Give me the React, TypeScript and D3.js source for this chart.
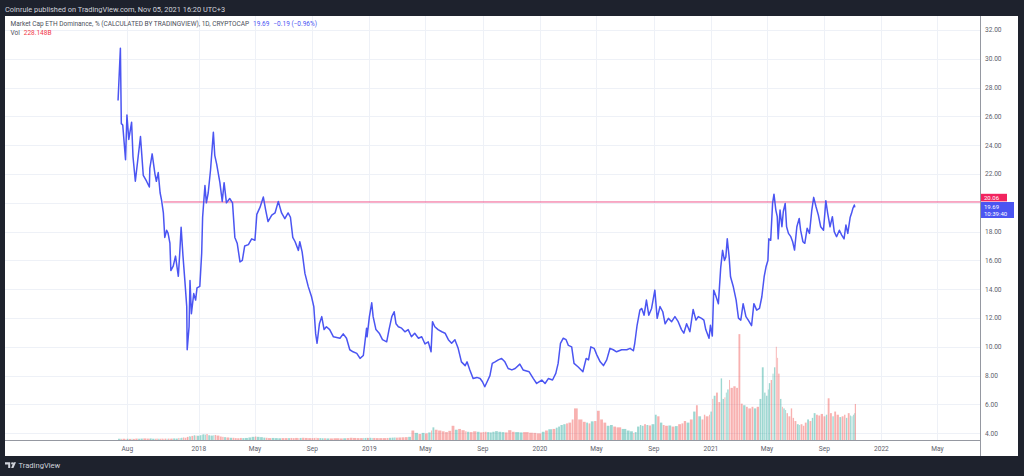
import * as d3 from "d3";
import { useEffect, useRef } from "react";

// daily samples (Market Cap ETH Dominance, %)
const lineDates = [
  "2017-07-12", "2017-07-17", "2017-07-19", "2017-07-22", "2017-07-28", "2017-07-31", "2017-08-04", "2017-08-10",
  "2017-08-13", "2017-08-18", "2017-08-24", "2017-08-29", "2017-09-04", "2017-09-11", "2017-09-17", "2017-09-18",
  "2017-09-23", "2017-09-29", "2017-10-02", "2017-10-06", "2017-10-10", "2017-10-13", "2017-10-17", "2017-10-20",
  "2017-10-24", "2017-10-27", "2017-10-31", "2017-11-02", "2017-11-07", "2017-11-12", "2017-11-18", "2017-11-21",
  "2017-11-24", "2017-11-28", "2017-12-02", "2017-12-06", "2017-12-07", "2017-12-11", "2017-12-13", "2017-12-16",
  "2017-12-21", "2017-12-25", "2017-12-28", "2018-01-03", "2018-01-07", "2018-01-09", "2018-01-14", "2018-01-17",
  "2018-01-21", "2018-01-26", "2018-02-01", "2018-02-04", "2018-02-08", "2018-02-15", "2018-02-20", "2018-02-24",
  "2018-03-01", "2018-03-08", "2018-03-14", "2018-03-19", "2018-03-24", "2018-03-30", "2018-04-04", "2018-04-09",
  "2018-04-17", "2018-04-24", "2018-05-01", "2018-05-05", "2018-05-12", "2018-05-19", "2018-05-24", "2018-05-29",
  "2018-06-06", "2018-06-13", "2018-06-20", "2018-06-27", "2018-07-04", "2018-07-11", "2018-07-16", "2018-07-21",
  "2018-07-26", "2018-08-02", "2018-08-05", "2018-08-10", "2018-08-16", "2018-08-23", "2018-08-30", "2018-09-04",
  "2018-09-08", "2018-09-11", "2018-09-16", "2018-09-21", "2018-09-26", "2018-10-01", "2018-10-08", "2018-10-16",
  "2018-10-30", "2018-11-06", "2018-11-13", "2018-11-20", "2018-11-27", "2018-12-05", "2018-12-12", "2018-12-19",
  "2018-12-22", "2018-12-26", "2018-12-27", "2019-01-01", "2019-01-06", "2019-01-09", "2019-01-15", "2019-01-22",
  "2019-01-29", "2019-02-07", "2019-02-12", "2019-02-18", "2019-02-23", "2019-02-27", "2019-03-04", "2019-03-11",
  "2019-03-18", "2019-03-25", "2019-04-01", "2019-04-08", "2019-04-16", "2019-04-23", "2019-04-30", "2019-05-07",
  "2019-05-13", "2019-05-16", "2019-05-21", "2019-05-28", "2019-06-05", "2019-06-12", "2019-06-19", "2019-06-26",
  "2019-07-03", "2019-07-10", "2019-07-17", "2019-07-25", "2019-07-29", "2019-08-04", "2019-08-11", "2019-08-19",
  "2019-08-26", "2019-08-31", "2019-09-05", "2019-09-10", "2019-09-16", "2019-09-21", "2019-09-27", "2019-10-04",
  "2019-10-11", "2019-10-18", "2019-10-25", "2019-11-02", "2019-11-09", "2019-11-19", "2019-11-26", "2019-12-09",
  "2019-12-18", "2019-12-25", "2020-01-05", "2020-01-12", "2020-01-19", "2020-01-28", "2020-02-04", "2020-02-09",
  "2020-02-14", "2020-02-20", "2020-02-26", "2020-03-02", "2020-03-09", "2020-03-14", "2020-03-23", "2020-04-02",
  "2020-04-09", "2020-04-14", "2020-04-19", "2020-04-26", "2020-05-02", "2020-05-09", "2020-05-16", "2020-05-23",
  "2020-05-30", "2020-06-06", "2020-06-13", "2020-06-24", "2020-07-05", "2020-07-12", "2020-07-19", "2020-07-22",
  "2020-07-27", "2020-08-02", "2020-08-06", "2020-08-11", "2020-08-16", "2020-08-21", "2020-08-27", "2020-09-03",
  "2020-09-08", "2020-09-14", "2020-09-20", "2020-09-25", "2020-10-02", "2020-10-09", "2020-10-16", "2020-10-23",
  "2020-10-30", "2020-11-04", "2020-11-10", "2020-11-17", "2020-11-24", "2020-11-30", "2020-12-05", "2020-12-12",
  "2020-12-17", "2020-12-21", "2020-12-28", "2020-12-31", "2021-01-04", "2021-01-07", "2021-01-12", "2021-01-17",
  "2021-01-22", "2021-01-26", "2021-01-30", "2021-02-02", "2021-02-05", "2021-02-09", "2021-02-12", "2021-02-18",
  "2021-02-24", "2021-03-01", "2021-03-06", "2021-03-11", "2021-03-17", "2021-03-22", "2021-03-29", "2021-04-03",
  "2021-04-09", "2021-04-15", "2021-04-20", "2021-04-25", "2021-04-29", "2021-05-03", "2021-05-05", "2021-05-09",
  "2021-05-13", "2021-05-16", "2021-05-20", "2021-05-23", "2021-05-25", "2021-05-29", "2021-06-02", "2021-06-05",
  "2021-06-09", "2021-06-12", "2021-06-16", "2021-06-21", "2021-06-25", "2021-06-29", "2021-07-04", "2021-07-09",
  "2021-07-12", "2021-07-17", "2021-07-21", "2021-07-26", "2021-07-31", "2021-08-05", "2021-08-09", "2021-08-14",
  "2021-08-19", "2021-08-24", "2021-08-30", "2021-09-04", "2021-09-08", "2021-09-13", "2021-09-18", "2021-09-22",
  "2021-09-27", "2021-10-03", "2021-10-08", "2021-10-13", "2021-10-17", "2021-10-21", "2021-10-26", "2021-10-29",
  "2021-11-01", "2021-11-04", "2021-11-05",
];

const dominance = [
  27.1, 30.73, 25.5, 25.4, 23.0, 26.1, 24.4, 25.6, 23.2, 21.5, 23.2, 24.6, 21.9, 21.5, 21.1, 22.4,
  23.4, 22.0, 21.5, 22.1, 20.7, 20.2, 19.3, 17.6, 18.1, 17.9, 17.2, 15.3, 15.6, 16.3, 14.9, 16.5,
  18.3, 16.3, 14.6, 12.8, 9.8, 11.4, 14.6, 12.3, 13.7, 13.25, 14.1, 14.2, 16.5, 19.0, 21.2, 20.0,
  20.7, 22.3, 24.9, 23.3, 22.7, 21.4, 20.1, 21.4, 20.0, 20.3, 20.0, 17.6, 17.2, 15.9, 16.0, 17.0,
  17.1, 17.5, 17.4, 19.2, 19.7, 20.4, 19.5, 18.7, 19.15, 19.3, 20.1, 19.3, 18.9, 19.3, 19.0, 17.6,
  17.3, 16.7, 17.3, 16.6, 15.1, 14.2, 13.5, 12.8, 10.9, 10.25, 11.6, 12.1, 11.2, 11.4, 11.2, 10.7,
  10.6, 10.9, 10.6, 9.8, 9.66, 9.55, 9.2, 9.4, 10.2, 11.3, 10.7, 12.1, 13.06, 12.1, 11.2, 10.95,
  10.5, 10.35, 11.2, 12.1, 12.44, 11.6, 11.4, 11.3, 11.05, 11.2, 10.7, 10.95, 10.6, 10.7, 10.2, 10.35,
  9.66, 11.75, 11.4, 11.2, 11.05, 10.95, 10.5, 10.25, 10.5, 9.9, 8.96, 8.7, 8.96, 8.4, 7.8, 7.88,
  7.8, 7.58, 7.23, 7.58, 8.0, 8.85, 8.96, 9.1, 9.2, 8.96, 8.5, 8.4, 8.5, 8.8, 8.4, 8.27,
  7.8, 7.46, 7.7, 7.46, 7.8, 7.7, 8.16, 8.85, 10.25, 10.6, 10.5, 10.1, 10.0, 8.85, 8.6, 8.27,
  9.2, 9.1, 10.0, 9.9, 9.43, 8.96, 8.7, 9.1, 9.9, 9.8, 9.66, 9.8, 9.8, 9.9, 9.73, 10.25,
  11.5, 12.55, 12.67, 12.2, 13.25, 12.2, 12.67, 13.94, 11.98, 12.8, 12.44, 11.6, 11.98, 11.75, 12.1, 11.75,
  11.2, 10.95, 11.6, 11.05, 12.6, 11.86, 12.1, 11.98, 11.86, 11.2, 10.6, 11.5, 10.75, 13.94, 13.5, 13.0,
  15.5, 16.7, 16.0, 16.25, 17.5, 16.25, 14.87, 14.17, 13.25, 12.0, 11.86, 13.0, 12.1, 11.86, 11.47, 13.0,
  12.55, 12.67, 13.48, 14.87, 15.56, 16.0, 17.5, 17.4, 19.96, 20.6, 19.5, 19.04, 17.5, 19.5, 18.34, 19.4,
  19.96, 18.34, 17.88, 17.65, 17.3, 16.72, 18.34, 18.92, 18.1, 17.3, 17.19, 18.23, 17.88, 19.5, 20.38, 19.73,
  19.15, 18.34, 18.1, 20.15, 19.27, 18.34, 19.04, 18.0, 17.65, 18.1, 17.76, 17.5, 18.46, 17.88, 18.98, 19.27,
  19.62, 19.85, 19.69,
];

// volume, billions USD
const volumeB = [
  8, 8, 7, 8, 7, 8, 7, 8, 7, 9, 8, 9, 10, 9, 8, 10,
  8, 8, 9, 8, 8, 9, 8, 9, 8, 9, 8, 9, 10, 9, 13, 12,
  14, 16, 14, 18, 20, 24, 22, 26, 30, 28, 27, 30, 33, 36, 34, 38,
  30, 28, 30, 32, 28, 22, 20, 18, 16, 14, 14, 12, 11, 13, 12, 13,
  16, 20, 22, 20, 18, 15, 14, 12, 13, 12, 11, 12, 12, 12, 13, 12,
  13, 12, 13, 14, 13, 12, 12, 13, 14, 12, 12, 11, 11, 10, 10, 11,
  10, 11, 12, 14, 13, 12, 12, 13, 13, 14, 13, 14, 13, 13, 12, 12,
  12, 13, 14, 15, 16, 15, 16, 17, 18, 20, 60, 45, 38, 45, 42, 48,
  60, 80, 65, 60, 55, 50, 58, 90, 65, 70, 62, 55, 52, 50, 55, 52,
  48, 50, 52, 50, 48, 52, 56, 52, 50, 48, 62, 52, 50, 48, 50, 46,
  45, 42, 52, 60, 68, 70, 78, 85, 95, 100, 105, 110, 130, 200, 130, 115,
  110, 105, 118, 120, 185, 130, 110, 90, 95, 85, 80, 70, 60, 55, 45, 50,
  85, 95, 90, 100, 95, 92, 100, 160, 150, 110, 95, 90, 92, 85, 88, 100,
  105, 120, 110, 130, 180, 220, 150, 130, 160, 150, 160, 180, 260, 280, 300, 240,
  390, 260, 270, 300, 320, 380, 330, 340, 330, 670, 230, 220, 210, 200, 210, 200,
  210, 260, 460, 300, 280, 320, 360, 380, 420, 460, 590, 520, 420, 260, 210, 200,
  190, 170, 150, 200, 140, 120, 100, 95, 100, 90, 110, 130, 120, 140, 170, 160,
  155, 165, 150, 160, 264, 170, 150, 180, 160, 145, 150, 160, 140, 170, 155, 150,
  160, 170, 228,
];

const priceTicks = [4, 6, 8, 10, 12, 14, 16, 18, 20, 22, 24, 26, 28, 30, 32];
const timeTickDates = [
  "2017-08-01", "2018-01-01", "2018-05-01", "2018-09-01", "2019-01-01", "2019-05-01", "2019-09-01", "2020-01-01",
  "2020-05-01", "2020-09-01", "2021-01-01", "2021-05-01", "2021-09-01", "2022-01-01", "2022-05-01",
];
const timeTickLabels = ["Aug", "2018", "May", "Sep", "2019", "May", "Sep", "2020", "May", "Sep", "2021", "May", "Sep", "2022", "May"];

const levelValue = 20.06;
const levelStart = "2017-10-17";
const lastValue = 19.69;
const lastChange = "\u22120.19 (\u22120.96%)";
const lastVolume = "228.148B";
const countdown = "10:39:40";

const FONT = "Roboto, 'Liberation Sans', sans-serif";
const BLUE = "#4b55f2";

export default function App() {
  const svgRef = useRef<SVGSVGElement>(null);

  useEffect(() => {
    if (!svgRef.current) return;
    const svg = d3.select(svgRef.current);
    svg.selectAll("*").remove();

    const W = 1024;
    const H = 476;
    const panel = { left: 5, top: 16, right: 1018, bottom: 456 };
    const plotRight = 980;
    const plotBottom = 440;

    const parse = d3.utcParse("%Y-%m-%d");
    const data = lineDates.map((d, i) => ({
      date: parse(d) as Date,
      value: dominance[i],
      vol: volumeB[i],
    }));

    const x = d3
      .scaleUtc()
      .domain([parse("2016-11-12") as Date, parse("2022-07-31") as Date])
      .range([panel.left, plotRight]);
    const y = d3.scaleLinear().domain([4, 32]).range([433.3, 30]);
    const yVol = d3.scaleLinear().domain([0, 700]).range([plotBottom, plotBottom - 110.6]);

    // background frame
    svg.append("rect").attr("width", W).attr("height", H).attr("fill", "#1e222d");
    svg
      .append("rect")
      .attr("x", panel.left)
      .attr("y", panel.top)
      .attr("width", panel.right - panel.left)
      .attr("height", panel.bottom - panel.top)
      .attr("fill", "#ffffff");

    svg
      .append("text")
      .attr("x", 5)
      .attr("y", 11.5)
      .style("font-family", FONT)
      .style("font-size", "7.4px")
      .attr("fill", "#d1d4dc")
      .text("Coinrule published on TradingView.com, Nov 05, 2021 16:20 UTC+3");

    svg
      .append("defs")
      .append("clipPath")
      .attr("id", "plot-clip")
      .append("rect")
      .attr("x", panel.left)
      .attr("y", panel.top)
      .attr("width", plotRight - panel.left)
      .attr("height", plotBottom - panel.top);

    // grid
    const grid = svg.append("g").attr("stroke", "#eef1f7").attr("stroke-width", 1);
    priceTicks.forEach((t) => {
      grid
        .append("line")
        .attr("x1", panel.left)
        .attr("x2", plotRight)
        .attr("y1", Math.round(y(t)) + 0.5)
        .attr("y2", Math.round(y(t)) + 0.5);
    });
    timeTickDates.forEach((t) => {
      const px = Math.round(x(parse(t) as Date)) + 0.5;
      grid.append("line").attr("x1", px).attr("x2", px).attr("y1", panel.top).attr("y2", plotBottom);
    });

    const plot = svg.append("g").attr("clip-path", "url(#plot-clip)");

    // volume bars
    plot
      .selectAll(".vol")
      .data(data)
      .enter()
      .append("rect")
      .attr("class", "vol")
      .attr("x", (d) => x(d.date))
      .attr("width", (d, i) => {
        const next = data[i + 1];
        return next ? Math.max(0.8, x(next.date) - x(d.date) - 0.5) : 1.2;
      })
      .attr("y", (d) => yVol(d.vol))
      .attr("height", (d) => plotBottom - yVol(d.vol))
      .attr("fill", (d, i) =>
        i === 0 || d.value >= data[i - 1].value ? "rgba(38,166,154,0.45)" : "rgba(239,83,80,0.45)",
      );

    // horizontal level
    plot
      .append("line")
      .attr("x1", x(parse(levelStart) as Date))
      .attr("x2", plotRight)
      .attr("y1", y(levelValue))
      .attr("y2", y(levelValue))
      .attr("stroke", "#f0588c")
      .attr("stroke-width", 1);

    // dominance line
    const line = d3
      .line<{ date: Date; value: number }>()
      .x((d) => x(d.date))
      .y((d) => y(d.value));
    plot
      .append("path")
      .datum(data)
      .attr("d", line)
      .attr("fill", "none")
      .attr("stroke", BLUE)
      .attr("stroke-width", 1.5)
      .attr("stroke-linejoin", "round");

    // separators
    svg
      .append("line")
      .attr("x1", panel.left)
      .attr("x2", plotRight)
      .attr("y1", plotBottom + 0.5)
      .attr("y2", plotBottom + 0.5)
      .attr("stroke", "#9598a1");
    svg
      .append("line")
      .attr("x1", plotRight + 0.5)
      .attr("x2", plotRight + 0.5)
      .attr("y1", panel.top)
      .attr("y2", panel.bottom)
      .attr("stroke", "#9598a1");

    // price axis labels (the one hidden under the price tags is skipped)
    svg
      .append("g")
      .selectAll("text")
      .data(priceTicks.filter((t) => Math.abs(y(t) - y(lastValue)) > 10))
      .enter()
      .append("text")
      .attr("x", 985)
      .attr("y", (d) => y(d))
      .attr("dy", "0.35em")
      .style("font-family", FONT)
      .style("font-size", "6.6px")
      .attr("fill", "#5d606b")
      .text((d) => d3.format(".2f")(d));

    // time axis labels
    svg
      .append("g")
      .selectAll("text")
      .data(timeTickDates)
      .enter()
      .append("text")
      .attr("x", (d) => x(parse(d) as Date))
      .attr("y", 448.5)
      .attr("dy", "0.35em")
      .attr("text-anchor", "middle")
      .style("font-family", FONT)
      .style("font-size", "6.6px")
      .attr("fill", "#5d606b")
      .text((d, i) => timeTickLabels[i]);

    // level label
    svg
      .append("rect")
      .attr("x", plotRight + 1)
      .attr("y", 193.8)
      .attr("width", 26)
      .attr("height", 7.6)
      .attr("fill", "#f2245f");
    svg
      .append("text")
      .attr("x", 984)
      .attr("y", 197.4)
      .attr("dy", "0.35em")
      .style("font-family", FONT)
      .style("font-size", "6px")
      .attr("fill", "#ffffff")
      .text(d3.format(".2f")(levelValue));

    // last value label
    svg
      .append("rect")
      .attr("x", plotRight + 1)
      .attr("y", 202)
      .attr("width", 33)
      .attr("height", 16)
      .attr("fill", BLUE);
    svg
      .append("text")
      .attr("x", 984)
      .attr("y", 206.8)
      .attr("dy", "0.35em")
      .style("font-family", FONT)
      .style("font-size", "6px")
      .attr("fill", "#ffffff")
      .text(d3.format(".2f")(lastValue));
    svg
      .append("text")
      .attr("x", 984)
      .attr("y", 213.6)
      .attr("dy", "0.35em")
      .style("font-family", FONT)
      .style("font-size", "6px")
      .attr("fill", "#ffffff")
      .text(countdown);

    // legend
    const legend1 = svg
      .append("text")
      .attr("x", 10.5)
      .attr("y", 26)
      .style("font-family", FONT)
      .style("font-size", "6.5px");
    legend1
      .append("tspan")
      .attr("fill", "#4a4e59")
      .text("Market Cap ETH Dominance, % (CALCULATED BY TRADINGVIEW), 1D, CRYPTOCAP");
    legend1.append("tspan").attr("dx", 4).attr("fill", BLUE).text(d3.format(".2f")(lastValue));
    legend1.append("tspan").attr("dx", 4).attr("fill", BLUE).text(lastChange);

    const legend2 = svg
      .append("text")
      .attr("x", 10.5)
      .attr("y", 35)
      .style("font-family", FONT)
      .style("font-size", "6.5px");
    legend2.append("tspan").attr("fill", "#4a4e59").text("Vol");
    legend2.append("tspan").attr("dx", 4).attr("fill", "#f23645").text(lastVolume);

    // footer logo
    const logo = svg.append("g").attr("fill", "#d1d4dc");
    logo.append("path").attr("d", "M5 462.3h5.2v5.7h-2v-3.6h-3.2z");
    logo.append("circle").attr("cx", 12.2).attr("cy", 463.4).attr("r", 1.1);
    logo.append("path").attr("d", "M13.6 462.3h2.4l-2.6 5.7h-2.3z");
    svg
      .append("text")
      .attr("x", 18.5)
      .attr("y", 468.3)
      .style("font-family", FONT)
      .style("font-size", "7.6px")
      .attr("fill", "#d1d4dc")
      .text("TradingView");
  }, []);

  return (
    <div style={{ position: "absolute", left: 0, top: 0 }}>
      <svg ref={svgRef} width={1024} height={476} style={{ display: "block" }} />
    </div>
  );
}
